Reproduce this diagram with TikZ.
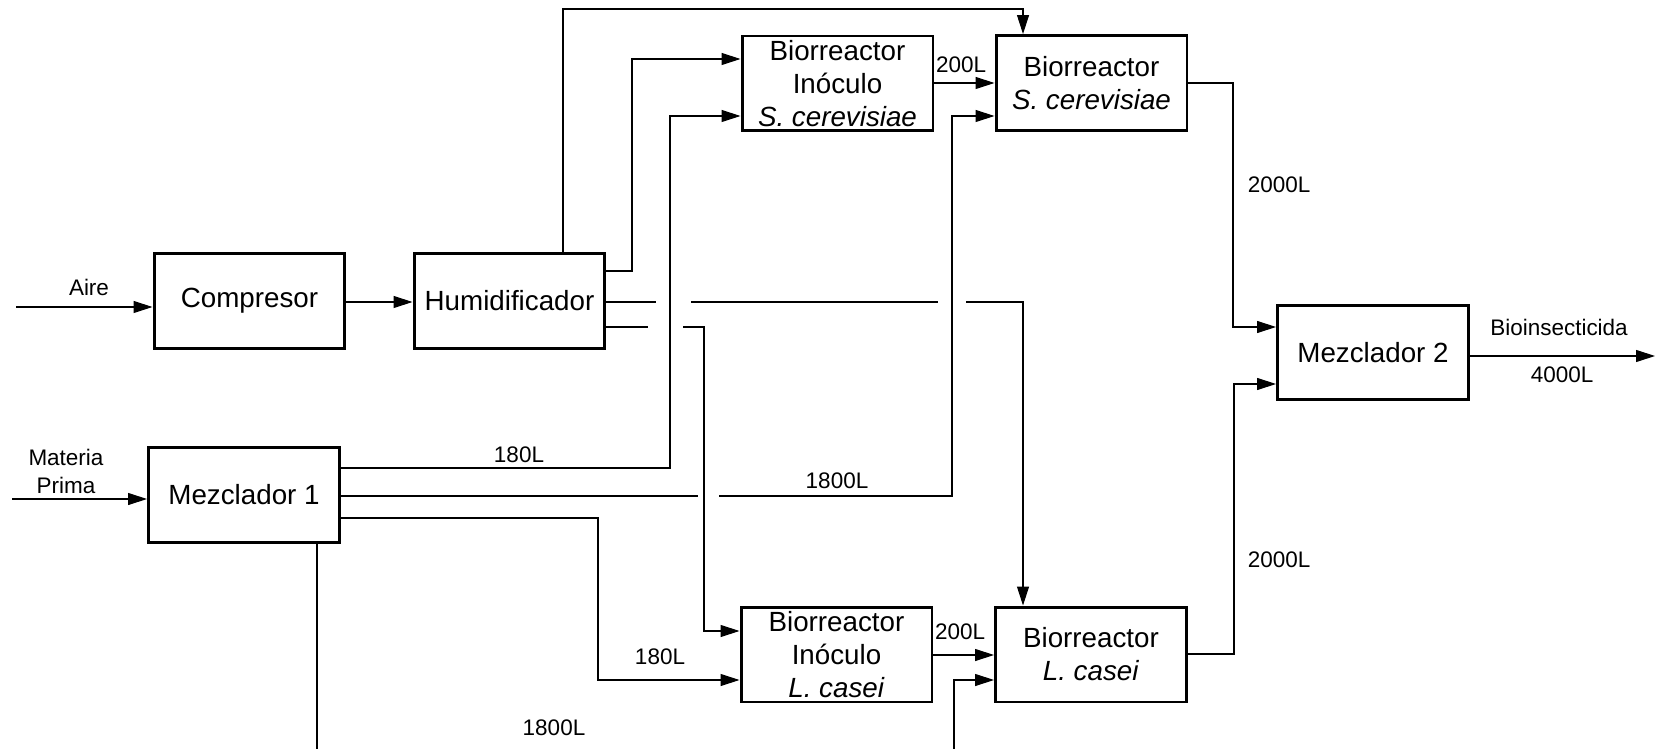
\documentclass[tikz,border=0pt]{standalone}
\usepackage{fontspec}
\setmainfont{Liberation Sans}
\usetikzlibrary{arrows.meta, calc}
\tikzset{
    unit/.style = {draw, line width=1.7pt, minimum width=3.82cm, minimum height=1.9cm,
        inner sep=1pt, align=center, font=\fontsize{15.8}{18.8}\selectfont},
    tag/.style = {inner sep=0pt, align=center, font=\fontsize{12.8}{15.9}\selectfont},
}

\begin{document}
\begin{tikzpicture}[x=0.02cm, y=-0.02cm, line width=0.6pt, >={Triangle[length=3.8mm,width=2.4mm]}]
\useasboundingbox (0,0) rectangle (1655,749);

\node[unit] (comp) at (249.5,301) {Compresor};
\node[unit] (hum) at (509.5,301) {Humidificador};
\node[unit] (mez1) at (244,495) {Mezclador 1};
\node[unit] (bis) at (837.5,83.5) {Biorreactor\\Inóculo\\\textit{S. cerevisiae}};
\node[unit] (bs) at (1091.5,83) {Biorreactor\\\textit{S. cerevisiae}};
\node[unit] (lci) at (836.5,654.5) {Biorreactor\\Inóculo\\\textit{L. casei}};
\node[unit] (lc) at (1091,654.5) {Biorreactor\\\textit{L. casei}};
\node[unit] (mez2) at (1373,352.5) {Mezclador 2};

\coordinate (airein) at (16,307);
\coordinate (mpin) at (12,499);
\coordinate (m1down) at (317,749);
\coordinate (lcup) at (954,749);
\coordinate (out) at (1655,356);

\node[tag] (aire) at (89,287) {Aire};
\node[tag] (mp) at (66,471) {Materia\\Prima};
\node[tag] (v180a) at (519,455) {180L};
\node[tag] (v1800a) at (837,481) {1800L};
\node[tag] (v180b) at (660,657) {180L};
\node[tag] (v1800b) at (554,728) {1800L};
\node[tag] (v200a) at (961,65) {200L};
\node[tag] (v200b) at (960,632) {200L};
\node[tag] (v2000a) at (1279,185) {2000L};
\node[tag] (v2000b) at (1279,560) {2000L};
\node[tag] (prod) at (1559,327) {Bioinsecticida};
\node[tag] (v4000) at (1562,375) {4000L};

\draw[->] (airein) -- (comp.west |- airein);
\draw[->] (comp.east |- 0,302) -- (hum.west |- 0,302);
\draw[->] (mpin) -- (mez1.west |- mpin);

\draw[->] (hum.north -| 563,0) |- (1023,9) -- (bs.north -| 1023,0);
\draw[->] (hum.east |- 0,271) -| (632,59) -- (bis.west |- 0,59);
\draw[->] (hum.east |- 0,302) -- (656,302) (691,302) -- (938,302) (966,302) -| (lc.north -| 1023,0);
\draw[->] (hum.east |- 0,327) -- (648,327) (683,327) -| (704,631) -- (lci.west |- 0,631);

\draw[->] (mez1.east |- 0,468) -| (670,116) -- (bis.west |- 0,116);
\draw[->] (mez1.east |- 0,496) -- (698,496) (719,496) -| (952,116) -- (bs.west |- 0,116);
\draw[->] (mez1.east |- 0,518) -| (598,680) -- (lci.west |- 0,680);
\draw (mez1.south -| m1down) -- (m1down);
\draw[->] (lcup) |- (lc.west |- 0,680);

\draw[->] (bis.east |- 0,83) -- (bs.west |- 0,83);
\draw[->] (lci.east |- 0,655) -- (lc.west |- 0,655);

\draw[->] (bs.east |- 0,83) -| (1233,327) -- (mez2.west |- 0,327);
\draw[->] (lc.east |- 0,654) -| (1234,384) -- (mez2.west |- 0,384);
\draw[->] (mez2.east |- out) -- (out);
\end{tikzpicture}
\end{document}
